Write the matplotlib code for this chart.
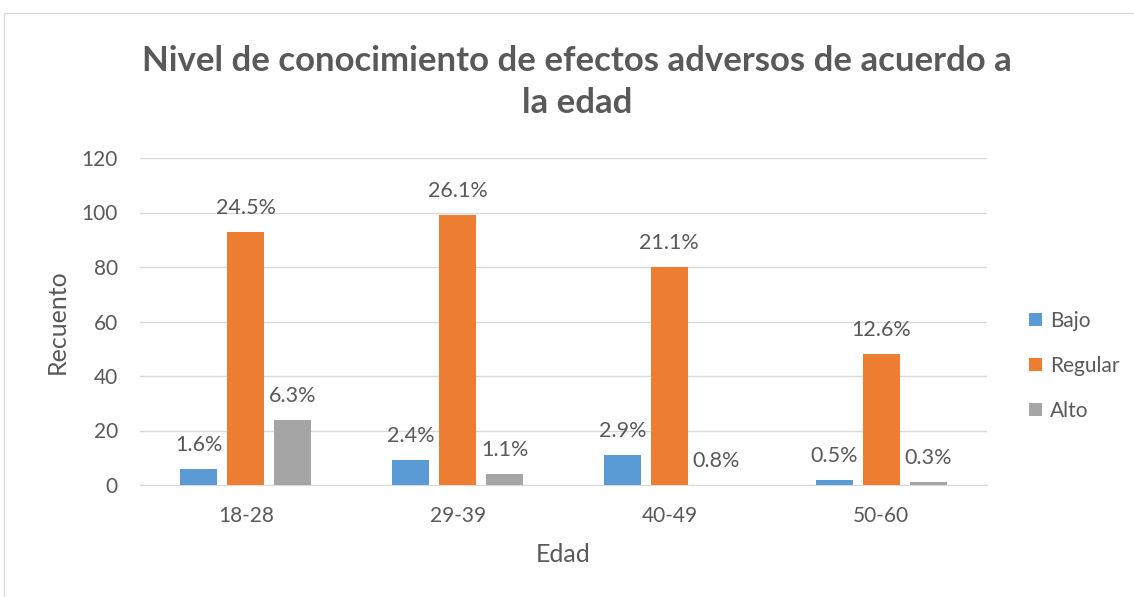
import numpy as np
import matplotlib.pyplot as plt
from matplotlib.patches import Rectangle

plt.rcParams['font.family'] = ['Lato', 'DejaVu Sans']

categories = ['18-28', '29-39', '40-49', '50-60']
bajo = [6, 9, 11, 2]
regular = [93, 99, 80, 48]
alto = [24, 4, 0, 1]
bajo_pct = ['1.6%', '2.4%', '2.9%', '0.5%']
regular_pct = ['24.5%', '26.1%', '21.1%', '12.6%']
alto_pct = ['6.3%', '1.1%', '0.8%', '0.3%']

series = [
    ('Bajo', bajo, bajo_pct, '#5B9BD5'),
    ('Regular', regular, regular_pct, '#ED7D31'),
    ('Alto', alto, alto_pct, '#A5A5A5'),
]

fig = plt.figure(figsize=(11.34, 5.97), dpi=100)
ax = fig.add_axes([140 / 1134, 1 - 485 / 597, 847 / 1134, 327 / 597])

text_col = '#595959'
x = np.arange(len(categories))
width = 0.175
offset = 0.222

for i, (name, vals, pcts, col) in enumerate(series):
    pos = x + (i - 1) * offset
    ax.bar(pos, vals, width, color=col, label=name, zorder=3)
    for px, v, t in zip(pos, vals, pcts):
        ax.annotate(t, (px, v), xytext=(0, 24), textcoords='offset pixels',
                    ha='center', va='center', fontsize=15.5, color=text_col)

ax.set_xlim(-0.5, 3.5)
ax.set_ylim(0, 120)
ax.set_yticks(range(0, 121, 20))
ax.set_xticks(x)
ax.set_xticklabels(categories)
ax.grid(axis='y', color='#D9D9D9', linewidth=1, zorder=0)
for s in ['top', 'right', 'left']:
    ax.spines[s].set_visible(False)
ax.spines['bottom'].set_color('#D9D9D9')
ax.tick_params(length=0, labelsize=15, colors=text_col)
ax.tick_params(axis='x', pad=15)
ax.tick_params(axis='y', pad=16)

ax.set_ylabel('Recuento', fontsize=18, color=text_col, va='center')
ax.set_xlabel('Edad', fontsize=18, color=text_col, va='center')
ax.yaxis.set_label_coords((57 - 140) / 847, 0.5)
ax.xaxis.set_label_coords(0.5, (485 - 555) / 327)

fig.text(577 / 1134, 1 - 82 / 597,
         'Nivel de conocimiento de efectos adversos de acuerdo a\nla edad',
         ha='center', va='center', fontsize=25, fontweight='bold',
         color=text_col, linespacing=1.42)

ax.legend(loc='center left', bbox_to_anchor=(1.028, 0.364), frameon=False,
          fontsize=15, labelcolor=text_col, handlelength=0.6, handleheight=0.6,
          labelspacing=1.2, handletextpad=0.4)

fig.patches.append(Rectangle((4 / 1134, -0.05), 1.2, 1 - 13 / 597 + 0.05,
                             transform=fig.transFigure, fill=False,
                             edgecolor='#D9D9D9', linewidth=1))

fig.savefig('out.png', dpi=100)
